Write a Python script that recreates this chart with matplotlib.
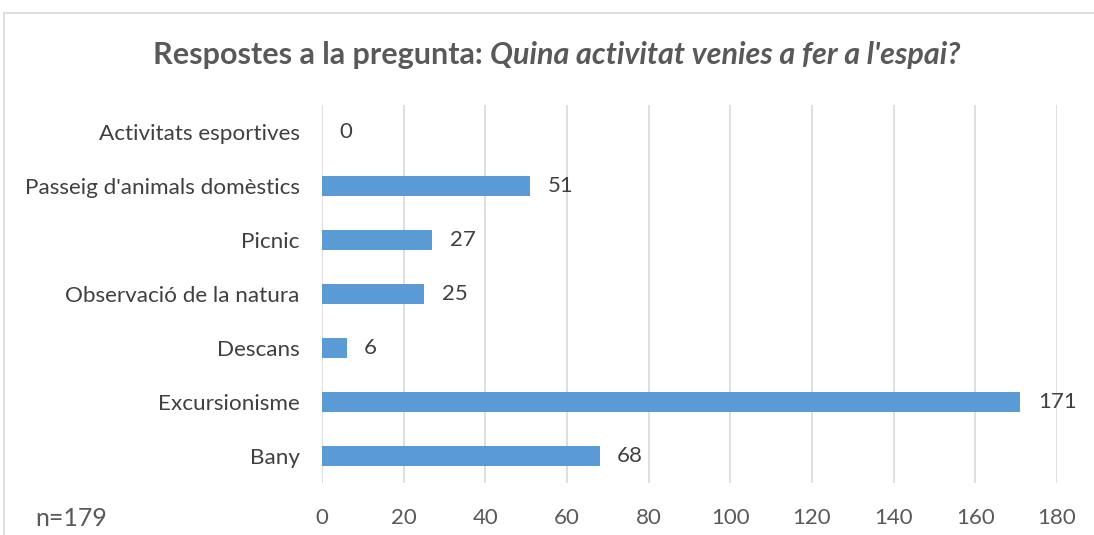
import matplotlib
matplotlib.use('Agg')
import matplotlib.pyplot as plt
from matplotlib.lines import Line2D

categories = ['Activitats esportives', "Passeig d'animals domèstics", 'Picnic',
              'Observació de la natura', 'Descans', 'Excursionisme', 'Bany']
values = [0, 51, 27, 25, 6, 171, 68]
x_ticks = [0, 20, 40, 60, 80, 100, 120, 140, 160, 180]
title_plain = 'Respostes a la pregunta: '
title_italic = "Quina activitat venies a fer a l'espai?"
note = 'n=179'

plt.rcParams['font.family'] = ['Lato', 'DejaVu Sans']

W, H = 1094, 535
fig = plt.figure(figsize=(W / 100, H / 100), dpi=100)
ax = fig.add_axes([322 / W, 1 - 483 / H, (1057 - 322) / W, (483 - 105) / H])

pos = list(range(len(categories)))
ax.barh(pos, values, height=0.36, color='#5B9BD5', zorder=3)
for p, v in zip(pos, values):
    ax.text(v + 4.3, p, str(v), va='center', ha='left', fontsize=16, color='#404040')

ax.set_ylim(len(categories) - 0.5, -0.5)
ax.set_xlim(0, 180)
ax.set_yticks(pos)
ax.set_yticklabels(categories, fontsize=16.2, color='#404040')
ax.set_xticks(x_ticks)
ax.set_xticklabels([str(t) for t in x_ticks], fontsize=16, color='#595959')
ax.tick_params(length=0, pad=16, axis='y')
ax.tick_params(length=0, pad=18, axis='x')
ax.xaxis.grid(True, color='#D9D9D9', linewidth=1.2, zorder=0)
for s in ax.spines.values():
    s.set_visible(False)

# title: plain bold + bold italic
fig.canvas.draw()
r = fig.canvas.get_renderer()
t1 = fig.text(0, 1 - 55 / H, title_plain, fontsize=22, fontweight='bold',
              color='#595959', va='center', ha='left')
t2 = fig.text(0, 1 - 55 / H, title_italic, fontsize=22, fontweight='bold',
              style='italic', color='#595959', va='center', ha='left')
w1 = t1.get_window_extent(r).width
w2 = t2.get_window_extent(r).width
x0 = (557 - (w1 + w2) / 2)
t1.set_x(x0 / W)
t2.set_x((x0 + w1) / W)

fig.text(35 / W, 1 - 519 / H, note, fontsize=18, color='#595959', va='center', ha='left')

# chart border (cropped)
fig.add_artist(Line2D([4 / W, 4 / W], [0, 1 - 13 / H], color='#D9D9D9', linewidth=1.2))
fig.add_artist(Line2D([4 / W, 1], [1 - 13 / H, 1 - 13 / H], color='#D9D9D9', linewidth=1.2))

fig.savefig('out.png', dpi=100)
